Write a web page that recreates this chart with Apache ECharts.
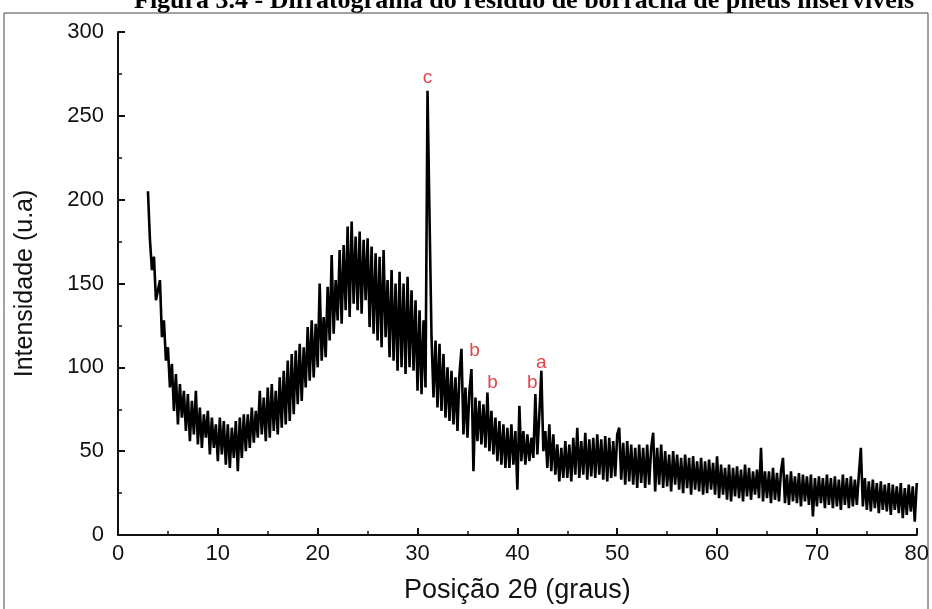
<!DOCTYPE html>
<html>
<head>
<meta charset="utf-8">
<script src="https://cdn.jsdelivr.net/npm/echarts@6/dist/echarts.min.js"></script>
<style>
  html, body { margin: 0; padding: 0; background: #fff; }
  #chart { width: 932px; height: 609px; }
</style>
</head>
<body>
<div id="chart"></div>
<script>
// 2theta grid of the scan (degrees)
const twoThetaStart = 3.0;
const twoThetaStep = 0.2;

// intensity, one row per degree (x.0 x.2 x.4 x.6 x.8)
const intensity = [
  205, 176, 158, 166, 140,   // 3
  146, 152, 118, 128, 104,   // 4
  112, 88, 102, 74, 96,      // 5
  66, 90, 70, 86, 62,        // 6
  84, 56, 80, 60, 86,        // 7
  54, 76, 52, 72, 58,        // 8
  74, 48, 70, 52, 66,        // 9
  44, 70, 48, 68, 42,        // 10
  66, 40, 64, 46, 68,        // 11
  38, 70, 46, 72, 50,        // 12
  72, 52, 76, 55, 74,        // 13
  58, 86, 60, 82, 56,        // 14
  88, 58, 90, 62, 86,        // 15
  60, 94, 64, 98, 66,        // 16
  104, 68, 108, 72, 110,     // 17
  78, 114, 80, 112, 88,      // 18
  124, 92, 128, 94, 126,     // 19
  100, 150, 104, 130, 106,   // 20
  148, 116, 167, 120, 152,   // 21
  128, 170, 126, 173, 134,   // 22
  184, 130, 187, 138, 178,   // 23
  134, 181, 132, 176, 140,   // 24
  177, 124, 172, 120, 168,   // 25
  116, 166, 112, 170, 118,   // 26
  152, 106, 158, 104, 150,   // 27
  98, 157, 100, 150, 96,     // 28
  154, 100, 146, 98, 140,    // 29
  86, 134, 84, 128, 88,      // 30
  265, 190, 118, 82, 116,    // 31
  76, 114, 74, 108, 70,      // 32
  100, 68, 98, 66, 94,       // 33
  62, 96, 111, 60, 88,       // 34
  58, 86, 99, 38, 82,        // 35
  56, 80, 54, 78, 52,        // 36
  85, 50, 74, 48, 70,        // 37
  44, 68, 42, 66, 40,        // 38
  64, 40, 66, 42, 62,        // 39
  27, 77, 44, 62, 42,        // 40
  60, 44, 58, 46, 84,        // 41
  48, 72, 98, 50, 62,        // 42
  40, 66, 38, 60, 36,        // 43
  54, 32, 52, 34, 56,        // 44
  34, 54, 32, 58, 36,        // 45
  64, 34, 56, 36, 61,        // 46
  33, 57, 35, 58, 34,        // 47
  60, 36, 57, 33, 59,        // 48
  32, 58, 34, 56, 35,        // 49
  60, 64, 33, 55, 30,        // 50
  56, 32, 54, 30, 52,        // 51
  28, 54, 31, 52, 28,        // 52
  54, 30, 52, 61, 26,        // 53
  52, 30, 54, 28, 50,        // 54
  29, 48, 26, 50, 30,        // 55
  48, 27, 46, 25, 48,        // 56
  28, 46, 24, 47, 27,        // 57
  44, 26, 46, 24, 44,        // 58
  25, 45, 27, 43, 24,        // 59
  47, 22, 42, 24, 40,        // 60
  21, 42, 20, 40, 23,        // 61
  41, 22, 39, 20, 42,        // 62
  23, 40, 21, 38, 24,        // 63
  39, 22, 52, 20, 38,        // 64
  22, 38, 19, 40, 21,        // 65
  37, 20, 38, 46, 19,        // 66
  36, 18, 38, 20, 35,        // 67
  19, 37, 17, 36, 20,        // 68
  35, 18, 36, 11, 34,        // 69
  17, 35, 19, 34, 16,        // 70
  36, 18, 34, 16, 35,        // 71
  17, 33, 15, 36, 18,        // 72
  34, 16, 35, 17, 33,        // 73
  18, 36, 52, 17, 34,        // 74
  15, 32, 14, 33, 16,        // 75
  31, 13, 32, 15, 30,        // 76
  14, 31, 12, 30, 15,        // 77
  29, 13, 31, 10, 28,        // 78
  12, 30, 14, 29, 8,         // 79
  31                         // 80
];

// phase labels above the peaks: [2theta, intensity, text]
const peakLabels = [
  [31.0, 273, 'c'],
  [35.7, 110, 'b'],
  [37.5, 91, 'b'],
  [41.5, 91, 'b'],
  [42.4, 103, 'a']
];

const xTicks = { min: 0, max: 80, interval: 10 };
const yTicks = { min: 0, max: 300, interval: 50 };

const scanData = intensity.map((v, i) => [+(twoThetaStart + i * twoThetaStep).toFixed(1), v]);

const chart = echarts.init(document.getElementById('chart'), null, { renderer: 'canvas' });

const axisFont = { fontFamily: 'Liberation Sans, Arial, sans-serif', fontSize: 22, color: '#111' };

chart.setOption({
  animation: false,
  backgroundColor: '#fff',
  graphic: [
    {
      // figure caption, cut off by the top edge of the picture
      type: 'text',
      x: 134,
      y: 14,
      style: {
        text: 'Figura 3.4 - Difratograma do resíduo de borracha de pneus inservíveis',
        font: 'bold 26px "Liberation Serif", "Times New Roman", serif',
        fill: '#000',
        verticalAlign: 'bottom'
      },
      silent: true
    },
    {
      type: 'rect',
      shape: { x: 4, y: 13, width: 924, height: 610 },
      style: { fill: 'none', stroke: '#444', lineWidth: 1 },
      silent: true
    }
  ],
  grid: { left: 118, right: 14, top: 32, bottom: 68 },
  xAxis: {
    type: 'value',
    min: xTicks.min, max: xTicks.max, interval: xTicks.interval,
    name: 'Posição 2θ (graus)',
    nameLocation: 'middle',
    nameGap: 42,
    nameTextStyle: { fontFamily: 'Liberation Sans, Arial, sans-serif', fontSize: 27, color: '#111' },
    axisLine: { lineStyle: { color: '#111', width: 2 } },
    axisTick: { inside: true, length: 7, lineStyle: { color: '#111', width: 2 } },
    minorTick: { show: true, splitNumber: 2, length: 4, lineStyle: { color: '#111', width: 1.5 } },
    axisLabel: Object.assign({ margin: 8 }, axisFont),
    splitLine: { show: false }
  },
  yAxis: {
    type: 'value',
    min: yTicks.min, max: yTicks.max, interval: yTicks.interval,
    name: 'Intensidade (u.a)',
    nameLocation: 'middle',
    nameGap: 80,
    nameTextStyle: { fontFamily: 'Liberation Sans, Arial, sans-serif', fontSize: 25, color: '#111' },
    axisLine: { show: true, lineStyle: { color: '#111', width: 2 } },
    axisTick: { show: true, inside: true, length: 7, lineStyle: { color: '#111', width: 2 } },
    minorTick: { show: true, splitNumber: 2, length: 4, lineStyle: { color: '#111', width: 1.5 } },
    axisLabel: Object.assign({ margin: 14 }, axisFont),
    splitLine: { show: false }
  },
  series: [
    {
      type: 'line',
      data: scanData,
      showSymbol: false,
      lineStyle: { color: '#000', width: 2.6 },
      silent: true
    },
    {
      type: 'scatter',
      data: peakLabels.map(p => ({ value: [p[0], p[1]], name: p[2] })),
      symbolSize: 0,
      itemStyle: { color: 'transparent' },
      label: {
        show: true,
        position: 'inside',
        formatter: p => p.name,
        fontFamily: 'Liberation Sans, Arial, sans-serif',
        fontSize: 19,
        color: '#d8141b'
      },
      silent: true
    }
  ]
});
</script>
</body>
</html>
